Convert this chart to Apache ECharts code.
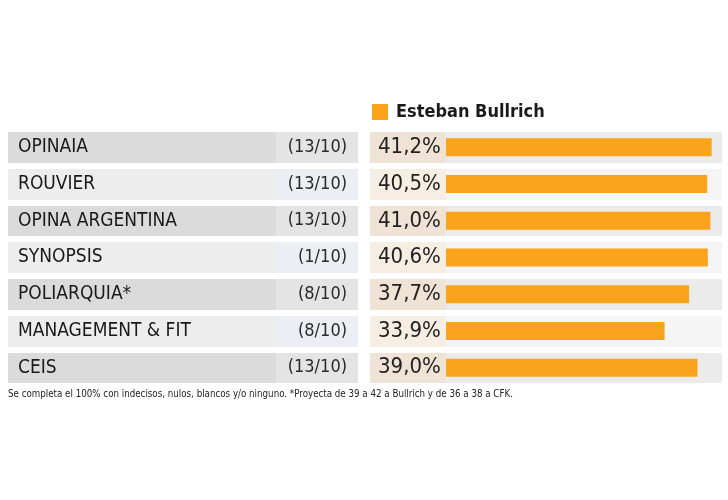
<!DOCTYPE html>
<html>
<head>
<meta charset="utf-8">
<script src="https://cdn.jsdelivr.net/npm/echarts@6/dist/echarts.min.js"></script>
<style>
  html, body { margin: 0; padding: 0; background: #fff; }
  #chart { width: 728px; height: 500px; }
</style>
</head>
<body>
<div id="chart"></div>
<script>
const myChart = echarts.init(document.getElementById("chart"));

// datos
const encuestadoras = ["OPINAIA", "ROUVIER", "OPINA ARGENTINA", "SYNOPSIS", "POLIARQUIA*", "MANAGEMENT & FIT", "CEIS"];
const fechas = ["(13/10)", "(13/10)", "(13/10)", "(1/10)", "(8/10)", "(8/10)", "(13/10)"];
const bullrich = [41.2, 40.5, 41.0, 40.6, 37.7, 33.9, 39.0];
const candidato = "Esteban Bullrich";
const nota = "Se completa el 100% con indecisos, nulos, blancos y/o ninguno. *Proyecta de 39 a 42 a Bullrich y de 36 a 38 a CFK.";

const porcentajes = bullrich.map(v => v.toFixed(1).replace(".", ",") + "%");

const FONT = "'DejaVu Sans Condensed', sans-serif";
const TOP = 129, HEIGHT = 257;

function catAxis(idx, data, colors, pos, label) {
  return {
    type: "category",
    gridIndex: idx,
    data: data,
    inverse: true,
    position: pos,
    axisLine: { show: false },
    axisTick: { show: false },
    splitArea: { show: true, interval: 0, areaStyle: { color: colors } },
    splitLine: { show: true, interval: 0, lineStyle: { color: "#ffffff", width: 6 } },
    axisLabel: Object.assign({ inside: true, interval: 0, fontFamily: FONT }, label)
  };
}

let option = {
  animation: false,
  backgroundColor: "#ffffff",
  title: {
    text: nota,
    left: 3,
    top: 384,
    textStyle: { fontSize: 9.7, fontWeight: "normal", color: "#222", fontFamily: FONT }
  },
  legend: {
    data: [candidato],
    left: 367,
    top: 98,
    icon: "rect",
    itemWidth: 16,
    itemHeight: 16,
    textStyle: { fontSize: 18, fontWeight: "bold", color: "#1a1a1a", fontFamily: FONT, padding: [0, 0, 0, 3] }
  },
  grid: [
    { left: 8, top: TOP, width: 268, height: HEIGHT },
    { left: 276, top: TOP, width: 82, height: HEIGHT },
    { left: 370, top: TOP, width: 76, height: HEIGHT },
    { left: 446, top: TOP, width: 276, height: HEIGHT }
  ],
  xAxis: [0, 1, 2, 3].map(i => ({
    type: "value",
    gridIndex: i,
    min: 0,
    max: i === 3 ? 42.8 : 1,
    show: false
  })),
  yAxis: [
    catAxis(0, encuestadoras, ["#dbdbdb", "#ededed"], "left",
      { margin: 10, fontSize: 19, color: "#1a1a1a" }),
    catAxis(1, fechas, ["#e4e4e4", "#eceef3"], "right",
      { margin: 11, fontSize: 18, color: "#2a2a2a" }),
    catAxis(2, porcentajes, ["#efe3d6", "#f6ede3"], "left",
      { margin: 8, fontSize: 22, color: "#222" }),
    catAxis(3, encuestadoras, ["#ebebeb", "#f5f5f5"], "left",
      { show: false })
  ],
  series: [{
    name: candidato,
    type: "bar",
    xAxisIndex: 3,
    yAxisIndex: 3,
    barWidth: 18,
    itemStyle: { color: "#fba41b" },
    data: bullrich
  }]
};

myChart.setOption(option);
</script>
</body>
</html>
